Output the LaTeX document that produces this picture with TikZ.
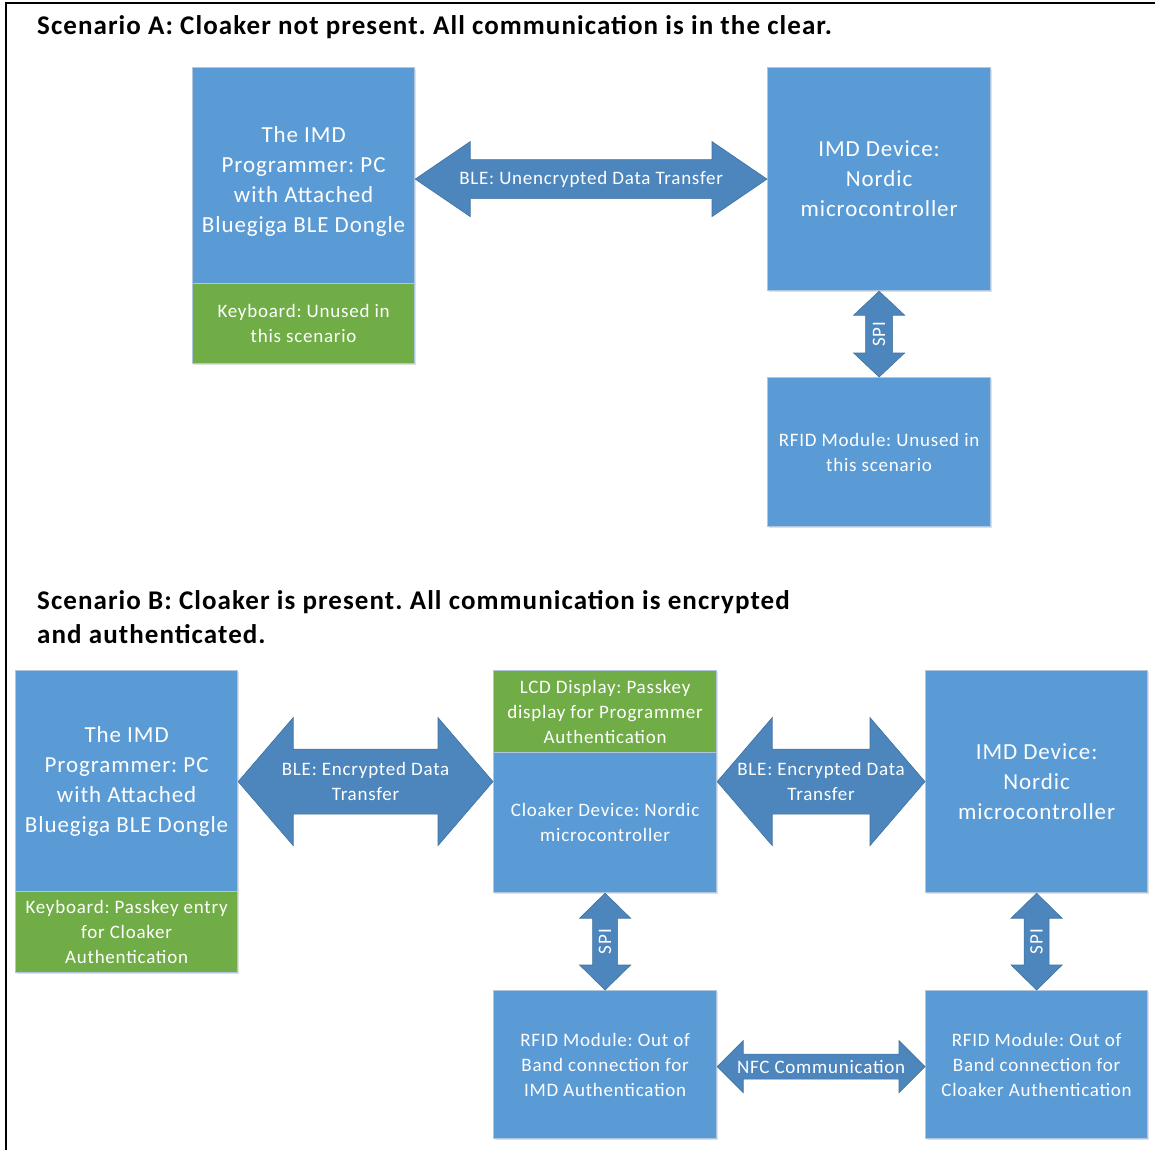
\documentclass[tikz,border=0pt]{standalone}
\usepackage{fontspec}
\setmainfont{Carlito}[LetterSpace=4]
\usetikzlibrary{calc,shadows}
\definecolor{boxblue}{HTML}{5B9BD5}
\definecolor{boxgreen}{HTML}{70AD47}
\definecolor{boxedge}{HTML}{AFC6DE}
\definecolor{arrfill}{HTML}{4D86BD}
\definecolor{arredge}{HTML}{41719C}
\tikzset{
  box/.style={draw=boxedge, line width=1.2pt, anchor=north west, inner sep=4pt,
    text=white, align=center,
    general shadow={shadow xshift=1.5pt, shadow yshift=-1.5pt, fill=black, opacity=.12}},
  bluebox/.style={box, fill=boxblue},
  greenbox/.style={box, fill=boxgreen},
  bigtxt/.style={font=\fontsize{23}{30}\selectfont},
  smalltxt/.style={font=\fontsize{19}{25}\selectfont},
  blockarrow/.style={fill=arrfill, draw=arredge, line width=0.6pt, line join=miter},
  albl/.style={text=white, align=center, font=\fontsize{19}{25}\selectfont, inner sep=0pt},
  title/.style={anchor=west, align=left, inner sep=0pt, font=\fontsize{27}{34}\selectfont\bfseries}
}
\newcommand{\blockH}[5]{%
 \draw[blockarrow] let \p1=#1, \p2=#2 in
  (\x1,\y1) -- (\x1+#3,\y1+#4) -- (\x1+#3,\y1+#5) -- (\x2-#3,\y1+#5) -- (\x2-#3,\y1+#4) -- (\x2,\y1)
  -- (\x2-#3,\y1-#4) -- (\x2-#3,\y1-#5) -- (\x1+#3,\y1-#5) -- (\x1+#3,\y1-#4) -- cycle;}
\newcommand{\blockV}[5]{%
 \draw[blockarrow] let \p1=#1, \p2=#2 in
  (\x1,\y1) -- (\x1+#4,\y1-#3) -- (\x1+#5,\y1-#3) -- (\x1+#5,\y2+#3) -- (\x1+#4,\y2+#3) -- (\x1,\y2)
  -- (\x1-#4,\y2+#3) -- (\x1-#5,\y2+#3) -- (\x1-#5,\y1-#3) -- (\x1-#4,\y1-#3) -- cycle;}
\begin{document}
\frenchspacing
\begin{tikzpicture}[x=1pt,y=-1pt]
\useasboundingbox (0,0) rectangle (1155,1150);
% frame
\draw[line width=2.2pt] (6,1150) -- (6,3) -- (1155,3);

% ---------- Scenario A ----------
\node[title] (titleA) at (37,27) {Scenario A: Cloaker not present. All communication is in the clear.};

\node[bluebox, bigtxt, minimum width=222, minimum height=216, inner ysep=4pt] (progA) at (192,67)
  {\rule{0pt}{28pt}The IMD\\Programmer: PC\\with Attached\\Bluegiga BLE Dongle};
\node[greenbox, smalltxt, minimum width=222, minimum height=80] (kbA) at (192,283)
  {Keyboard: Unused in\\this scenario};
\node[bluebox, bigtxt, minimum width=223, minimum height=223] (imdA) at (767,67)
  {IMD Device:\\Nordic\\microcontroller};
\node[bluebox, smalltxt, minimum width=223, minimum height=149] (rfidA) at (767,377)
  {RFID Module: Unused in\\this scenario};

\blockH{(progA.east |- imdA.west)}{(imdA.west)}{55pt}{37.5pt}{19.5pt}
\node[albl] (bleA) at ($(progA.east |- imdA.west)!0.5!(imdA.west)$) {BLE: Unencrypted Data Transfer};
\blockV{(imdA.south)}{(rfidA.north)}{24pt}{25.5pt}{13.5pt}
\node[albl, rotate=90] (spiA) at ($(imdA.south)!0.5!(rfidA.north)$) {SPI};

% ---------- Scenario B ----------
\node[title] (titleB) at (37,617) {Scenario B: Cloaker is present. All communication is encrypted\\and authenticated.};

\node[bluebox, bigtxt, minimum width=222, minimum height=221] (progB) at (15,670)
  {The IMD\\Programmer: PC\\with Attached\\Bluegiga BLE Dongle};
\node[greenbox, smalltxt, minimum width=222, minimum height=81] (kbB) at (15,891)
  {Keyboard: Passkey entry\\for Cloaker\\Authentication};
\node[greenbox, smalltxt, minimum width=223, minimum height=82] (lcd) at (493,670)
  {LCD Display: Passkey\\display for Programmer\\Authentication};
\node[bluebox, smalltxt, minimum width=223, minimum height=140] (cloak) at (493,752)
  {Cloaker Device: Nordic\\microcontroller};
\node[bluebox, bigtxt, minimum width=222, minimum height=222] (imdB) at (925,670)
  {IMD Device:\\Nordic\\microcontroller};
\node[bluebox, smalltxt, minimum width=223, minimum height=148] (rfidL) at (493,990)
  {RFID Module: Out of\\Band connection for\\IMD Authentication};
\node[bluebox, smalltxt, minimum width=222, minimum height=148] (rfidR) at (925,990)
  {RFID Module: Out of\\Band connection for\\Cloaker Authentication};

\blockH{(progB.east |- imdB.west)}{(cloak.west |- imdB.west)}{55pt}{64pt}{32.5pt}
\node[albl] (ble1) at ($(progB.east |- imdB.west)!0.5!(cloak.west |- imdB.west)$) {BLE: Encrypted Data\\Transfer};
\blockH{(cloak.east |- imdB.west)}{(imdB.west)}{55pt}{64pt}{32.5pt}
\node[albl] (ble2) at ($(cloak.east |- imdB.west)!0.5!(imdB.west)$) {BLE: Encrypted Data\\Transfer};
\blockV{(cloak.south)}{(rfidL.north)}{25pt}{25.5pt}{12.5pt}
\node[albl, rotate=90] (spiL) at ($(cloak.south)!0.5!(rfidL.north)$) {SPI};
\blockV{(imdB.south)}{(rfidR.north)}{25pt}{25.5pt}{12.5pt}
\node[albl, rotate=90] (spiR) at ($(imdB.south)!0.5!(rfidR.north)$) {SPI};
\blockH{([yshift=-2pt]rfidL.east)}{([yshift=-2pt]rfidR.west)}{26pt}{26pt}{12.5pt}
\node[albl] (nfc) at ($([yshift=-2pt]rfidL.east)!0.5!([yshift=-2pt]rfidR.west)$) {NFC Communication};
\end{tikzpicture}
\end{document}
